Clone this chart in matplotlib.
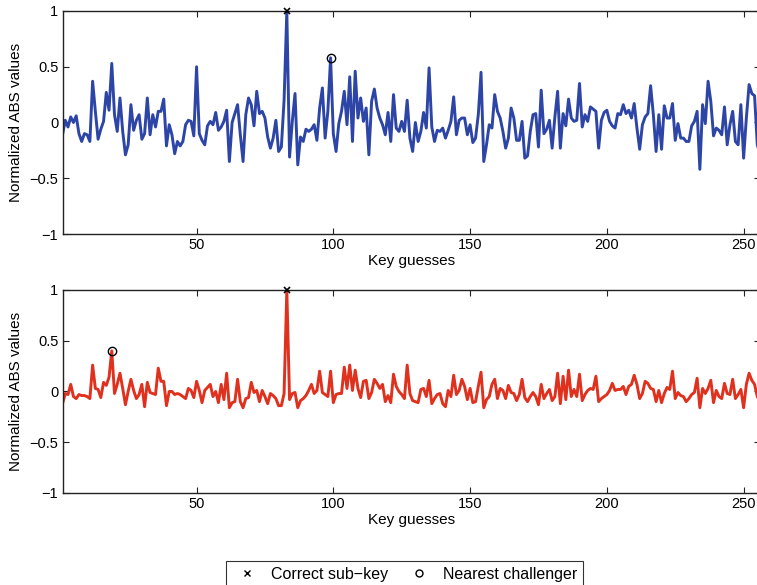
import numpy as np
import matplotlib.pyplot as plt

plt.rcParams['font.family'] = ['Liberation Sans', 'DejaVu Sans']
plt.rcParams['axes.unicode_minus'] = True

# key guess index 1..256
keys = np.arange(1, 257)

# normalized ABS values, top panel (blue)
abs_top = [
    -0.11, 0.02, -0.04, 0.05, 0.00, 0.06, -0.10, -0.17, -0.10, -0.11,
    -0.17, 0.37, 0.10, -0.15, -0.06, 0.01, 0.27, 0.11, 0.53, 0.07,
    -0.08, 0.22, -0.08, -0.29, -0.20, 0.16, -0.07, 0.02, 0.07, -0.15,
    -0.10, 0.22, -0.11, 0.07, -0.04, 0.10, 0.10, 0.21, -0.21, -0.02,
    -0.11, -0.28, -0.17, -0.21, -0.17, -0.02, 0.02, 0.01, -0.12, 0.50,
    -0.10, -0.16, -0.20, -0.03, 0.01, -0.02, 0.09, -0.07, -0.04, 0.01,
    0.11, -0.35, 0.00, 0.08, 0.16, -0.11, -0.35, 0.07, 0.22, 0.16,
    -0.03, 0.28, 0.08, 0.10, 0.04, -0.13, -0.23, -0.14, 0.02, -0.26,
    -0.22, 0.20, 1.00, -0.31, 0.01, 0.26, -0.38, -0.13, -0.17, -0.06,
    -0.08, -0.06, -0.02, -0.16, 0.13, 0.31, -0.14, 0.10, 0.58, -0.10,
    -0.26, -0.01, 0.10, 0.28, -0.02, 0.41, -0.17, 0.46, 0.04, 0.22,
    0.01, 0.13, -0.29, 0.19, 0.30, 0.13, 0.04, -0.02, -0.11, 0.09,
    -0.17, 0.25, -0.05, -0.08, 0.01, -0.08, 0.20, -0.14, -0.26, 0.00,
    -0.17, -0.08, 0.09, -0.05, 0.49, -0.04, -0.17, -0.07, -0.08, -0.05,
    -0.14, -0.07, 0.01, 0.23, -0.11, 0.02, 0.04, 0.04, -0.11, -0.02,
    -0.18, -0.14, 0.07, 0.45, -0.35, -0.20, -0.02, -0.05, 0.25, 0.10,
    0.04, -0.08, -0.23, -0.14, 0.13, 0.04, -0.16, -0.16, 0.01, -0.32,
    -0.30, -0.08, 0.07, 0.08, -0.22, 0.29, -0.10, -0.06, 0.02, -0.23,
    0.05, 0.28, -0.23, 0.08, -0.03, 0.21, 0.04, 0.01, 0.02, 0.35,
    -0.04, 0.07, 0.01, 0.14, 0.12, 0.10, -0.23, 0.02, 0.09, 0.11,
    0.01, -0.03, -0.05, 0.08, 0.07, 0.16, 0.08, 0.11, 0.04, 0.17,
    -0.05, -0.24, -0.02, 0.05, 0.08, 0.33, 0.07, -0.26, 0.07, -0.24,
    0.15, 0.04, 0.04, 0.17, -0.16, -0.01, -0.14, -0.14, -0.17, -0.17,
    -0.03, 0.01, 0.10, -0.42, 0.16, -0.01, 0.37, 0.19, -0.12, -0.05,
    -0.07, -0.11, 0.14, -0.20, -0.02, 0.10, -0.17, -0.20, 0.16, -0.32,
    0.04, 0.34, 0.26, 0.24, -0.20, -0.28,
]

# normalized ABS values, bottom panel (red)
abs_bottom = [
    -0.12, -0.02, -0.03, 0.07, -0.05, -0.07, -0.03, -0.04, -0.04, -0.05,
    -0.07, 0.26, 0.03, 0.02, -0.06, 0.09, 0.06, 0.14, 0.40, -0.02,
    0.07, 0.18, 0.03, -0.13, 0.00, 0.12, 0.01, -0.07, -0.03, 0.07,
    -0.15, 0.09, -0.01, -0.02, -0.03, 0.23, 0.10, 0.10, -0.14, 0.00,
    0.00, -0.03, -0.02, -0.03, -0.05, -0.07, 0.03, 0.01, -0.06, 0.10,
    0.01, -0.11, 0.01, 0.04, 0.07, -0.05, 0.00, -0.11, 0.07, -0.08,
    0.18, -0.16, -0.11, -0.10, 0.12, -0.10, -0.16, -0.07, -0.06, 0.09,
    -0.01, 0.01, -0.10, 0.01, -0.05, -0.12, -0.02, -0.04, -0.07, -0.14,
    -0.14, -0.02, 1.00, -0.08, -0.02, -0.01, -0.16, -0.09, -0.07, -0.04,
    0.01, 0.07, -0.02, 0.01, 0.20, -0.01, -0.03, -0.05, 0.20, -0.11,
    -0.03, -0.02, -0.02, 0.24, 0.03, 0.26, 0.01, 0.21, 0.03, -0.06,
    0.10, 0.11, -0.07, -0.01, 0.12, 0.08, 0.03, 0.07, -0.10, -0.04,
    -0.11, 0.17, 0.05, 0.00, -0.03, -0.07, 0.26, -0.02, -0.09, -0.10,
    -0.11, 0.02, 0.03, -0.05, 0.11, -0.12, -0.07, -0.03, -0.02, -0.12,
    -0.15, 0.01, -0.05, 0.16, -0.03, 0.01, 0.12, 0.05, -0.08, 0.03,
    -0.11, -0.10, 0.05, 0.19, -0.16, -0.08, -0.05, 0.07, 0.12, -0.07,
    0.03, 0.01, -0.07, 0.06, -0.01, -0.02, -0.09, -0.03, 0.12, -0.06,
    -0.10, -0.05, -0.01, -0.05, -0.13, 0.07, -0.07, -0.02, 0.02, -0.09,
    -0.05, 0.18, -0.12, 0.15, -0.08, 0.21, -0.05, 0.02, -0.05, 0.17,
    -0.09, -0.03, 0.01, 0.03, 0.02, 0.15, -0.10, -0.07, -0.05, -0.03,
    0.01, 0.08, 0.01, 0.02, 0.02, 0.05, -0.03, 0.05, 0.07, 0.16,
    0.07, -0.07, -0.02, 0.10, 0.08, 0.03, 0.02, -0.10, 0.01, -0.11,
    -0.02, 0.04, 0.02, 0.20, -0.07, -0.01, -0.04, -0.05, -0.10, -0.07,
    -0.03, -0.01, 0.13, -0.16, 0.03, -0.02, 0.03, 0.11, -0.11, 0.01,
    -0.05, -0.07, 0.08, -0.02, -0.03, 0.12, -0.07, -0.03, 0.02, -0.16,
    0.07, 0.18, 0.11, 0.07, -0.05, -0.10,
]

correct_key = 83
challenger_top = 99
challenger_bottom = 19

fig = plt.figure(figsize=(7.57, 5.85), dpi=100)
ax_top = fig.add_axes([0.0826, 0.6, 0.9214, 0.3812])
ax_bot = fig.add_axes([0.0826, 0.1573, 0.9214, 0.347])

panels = [
    (ax_top, abs_top, '#2d45a6', challenger_top),
    (ax_bot, abs_bottom, '#e0301e', challenger_bottom),
]

for ax, vals, col, chal in panels:
    vals = np.array(vals)
    ax.plot(keys, vals, color=col, linewidth=2.1, zorder=2)
    ax.plot(correct_key, vals[correct_key - 1], 'x', color='black',
            markersize=5, markeredgewidth=1.2, zorder=3, clip_on=False)
    ax.plot(chal, vals[chal - 1], 'o', markerfacecolor='none',
            markeredgecolor='black', markersize=6, markeredgewidth=1.0,
            zorder=3, clip_on=False)
    ax.set_xlim(1, 256)
    ax.set_ylim(-1, 1)
    ax.set_xticks([50, 100, 150, 200, 250])
    ax.set_yticks([-1, -0.5, 0, 0.5, 1])
    ax.set_yticklabels(['\u22121', '\u22120.5', '0', '0.5', '1'])
    ax.tick_params(direction='in', length=4, width=0.8, top=True, right=True,
                   labelsize=10.5, pad=3, colors='#222222', labelcolor='black')
    for s in ax.spines.values():
        s.set_linewidth(1.0)
        s.set_color('#222222')
    ax.set_xlabel('Key guesses', fontsize=11, labelpad=1)
    ax.set_ylabel('Normalized ABS values', fontsize=11, labelpad=5)

# legend entries
h1, = ax_bot.plot([], [], 'x', color='black', markersize=4, markeredgewidth=1.0)
h2, = ax_bot.plot([], [], 'o', markerfacecolor='none', markeredgecolor='black',
                  markersize=5, markeredgewidth=1.0)
leg = fig.legend([h1, h2], ['Correct sub\u2212key', 'Nearest challenger'],
                 loc='center', bbox_to_anchor=(0.534, 0.018), ncol=2,
                 fontsize=11.5, frameon=True, fancybox=False,
                 handlelength=2.0, handletextpad=0.5, columnspacing=0.9,
                 borderpad=0.35)
leg.get_frame().set_edgecolor('black')
leg.get_frame().set_linewidth(0.8)

fig.savefig('out.png', dpi=100)
